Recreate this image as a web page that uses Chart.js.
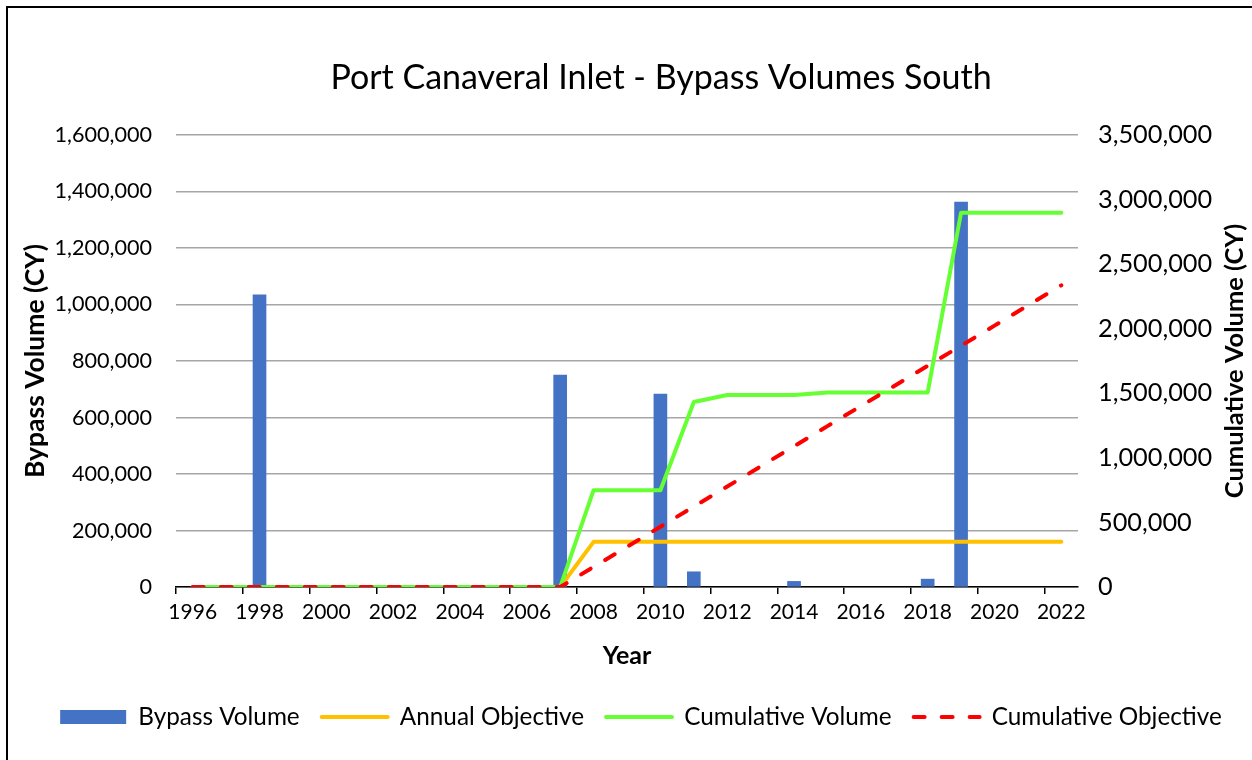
<!DOCTYPE html>
<html>
<head>
<meta charset="utf-8">
<script src="https://cdn.jsdelivr.net/npm/chart.js@4.4.1/dist/chart.umd.min.js"></script>
<style>
html,body{margin:0;padding:0;background:#fff;}
canvas{display:block;}
</style>
</head>
<body>
<canvas id="c" width="1252" height="760"></canvas>
<script>
// ---- data ----
const years = ['1996','1997','1998','1999','2000','2001','2002','2003','2004','2005','2006','2007','2008','2009','2010','2011','2012','2013','2014','2015','2016','2017','2018','2019','2020','2021','2022'];
const bypassVolume = [null,null,1034000,null,null,null,null,null,null,null,null,750000,null,null,683000,54000,null,null,20000,null,null,null,28000,1363000,null,null,null];
const annualObjective = [0,0,0,0,0,0,0,0,0,0,0,0,160000,160000,160000,160000,160000,160000,160000,160000,160000,160000,160000,160000,160000,160000,160000];
const cumulativeVolume = [0,0,0,0,0,0,0,0,0,0,0,0,750000,750000,750000,1433000,1487000,1487000,1487000,1507000,1507000,1507000,1507000,2898000,2898000,2898000,2898000];
const cumulativeObjective = [0,0,0,0,0,0,0,0,0,0,0,0,156000,311000,467000,623000,778000,934000,1090000,1246000,1401000,1557000,1713000,1868000,2024000,2180000,2336000];
const chartTitle = 'Port Canaveral Inlet - Bypass Volumes South';
const leftAxisTitle = 'Bypass Volume (CY)';
const rightAxisTitle = 'Cumulative Volume (CY)';
const xAxisTitle = 'Year';
const leftMax = 1600000, leftStep = 200000;
const rightMax = 3500000, rightStep = 500000;

const FONT = 'Lato';
Chart.defaults.font.family = FONT;
Chart.defaults.color = '#000';

const fmt = v => Number(v).toLocaleString('en-US');

const framePlugin = {
  id: 'frame',
  afterLayout(chart) {
    if (chart.titleBlock) { chart.titleBlock.left += 56; }
    if (chart.legend) { chart.legend.left += 8; chart.legend.right += 8; }
  },
  beforeDraw(chart) {
    const ctx = chart.ctx;
    ctx.save();
    ctx.fillStyle = '#fff';
    ctx.fillRect(0, 0, chart.width, chart.height);
    ctx.strokeStyle = '#000';
    ctx.lineWidth = 2;
    ctx.beginPath();
    ctx.moveTo(7, chart.height);
    ctx.lineTo(7, 7);
    ctx.lineTo(chart.width, 7);
    ctx.stroke();
    ctx.restore();
  },
  afterDraw(chart) {
    const ctx = chart.ctx;
    const ca = chart.chartArea;
    ctx.save();
    ctx.translate(1235, (ca.top + ca.bottom) / 2);
    ctx.rotate(-Math.PI / 2);
    ctx.font = 'bold 25.5px ' + FONT;
    ctx.fillStyle = '#000';
    ctx.textAlign = 'center';
    ctx.textBaseline = 'middle';
    ctx.fillText(rightAxisTitle, 0, 0);
    ctx.restore();
  }
};

new Chart(document.getElementById('c'), {
  type: 'bar',
  plugins: [framePlugin],
  data: {
    labels: years,
    datasets: [
      {
        label: 'Bypass Volume',
        data: bypassVolume,
        backgroundColor: '#4472C4',
        borderWidth: 0,
        barThickness: 13,
        yAxisID: 'y',
        order: 3,
        pointStyle: 'rect'
      },
      {
        type: 'line',
        label: 'Annual Objective',
        data: annualObjective,
        borderColor: '#FFC000',
        backgroundColor: '#FFC000',
        borderWidth: 4,
        pointRadius: 0,
        pointHoverRadius: 0,
        tension: 0,
        fill: false,
        yAxisID: 'y',
        order: 2,
        pointStyle: 'line',
        borderCapStyle: 'round',
        borderJoinStyle: 'round'
      },
      {
        type: 'line',
        label: 'Cumulative Volume',
        data: cumulativeVolume,
        borderColor: '#66FF33',
        backgroundColor: '#66FF33',
        borderWidth: 4,
        pointRadius: 0,
        pointHoverRadius: 0,
        tension: 0,
        fill: false,
        yAxisID: 'y1',
        order: 1,
        pointStyle: 'line',
        borderCapStyle: 'round',
        borderJoinStyle: 'round'
      },
      {
        type: 'line',
        label: 'Cumulative Objective',
        data: cumulativeObjective,
        borderColor: '#FF0000',
        backgroundColor: '#FF0000',
        borderWidth: 4,
        borderDash: [11, 17],
        borderCapStyle: 'round',
        pointRadius: 0,
        pointHoverRadius: 0,
        tension: 0,
        fill: false,
        yAxisID: 'y1',
        order: 0,
        pointStyle: 'line'
      }
    ]
  },
  options: {
    responsive: false,
    animation: false,
    devicePixelRatio: 1,
    layout: { padding: { top: 0, left: 14, right: 0, bottom: 20.75 } },
    plugins: {
      tooltip: { enabled: false },
      title: {
        display: true,
        text: chartTitle,
        font: { family: FONT, size: 34, weight: 'normal' },
        color: '#000',
        padding: { top: 57.6, bottom: 36.6 }
      },
      legend: {
        position: 'bottom',
        labels: {
          usePointStyle: true,
          pointStyleWidth: 66,
          boxHeight: 14,
          padding: 22,
          color: '#000',
          font: { family: FONT, size: 24.3 },
          sort: (a, b) => a.datasetIndex - b.datasetIndex,
          generateLabels: chart => {
            const items = Chart.defaults.plugins.legend.labels.generateLabels(chart);
            items.forEach(it => {
              const ds = chart.data.datasets[it.datasetIndex];
              if (ds.type === 'line') {
                it.lineDash = ds.borderDash || [];
                it.lineCap = ds.borderCapStyle || 'butt';
                it.lineWidth = ds.borderWidth;
                it.strokeStyle = ds.borderColor;
              }
            });
            return items;
          }
        }
      }
    },
    scales: {
      x: {
        offset: true,
        grid: {
          offset: true,
          drawOnChartArea: false,
          drawTicks: true,
          tickLength: 7,
          lineWidth: 1.5,
          color: ctx => (ctx.index !== undefined && ctx.index % 2 === 0) ? '#000' : 'rgba(0,0,0,0)'
        },
        border: { display: true, color: '#000', width: 1.5 },
        ticks: {
          autoSkip: false,
          maxRotation: 0,
          minRotation: 0,
          padding: 6,
          color: '#000',
          font: { family: FONT, size: 21 },
          callback: function(v, i) { return i % 2 === 0 ? this.getLabelForValue(v) : ''; }
        },
        title: {
          display: true,
          text: xAxisTitle,
          color: '#000',
          font: { family: FONT, size: 25, weight: 'bold' },
          padding: { top: 0, bottom: 11.75 }
        },
        afterFit: s => { s.height = 95.9; }
      },
      y: {
        position: 'left',
        min: 0,
        max: leftMax,
        grid: { color: '#A6A6A6', lineWidth: 1.5, drawTicks: false },
        border: { display: false },
        ticks: {
          stepSize: leftStep,
          padding: 24,
          color: '#000',
          font: { family: FONT, size: 21.6 },
          callback: v => fmt(v)
        },
        title: {
          display: true,
          text: leftAxisTitle,
          color: '#000',
          font: { family: FONT, size: 26.5, weight: 'bold' },
          padding: { top: 5.1, bottom: 0 }
        },
        afterFit: s => { s.width = 162; }
      },
      y1: {
        position: 'right',
        min: 0,
        max: rightMax,
        grid: { drawOnChartArea: false, drawTicks: false },
        border: { display: false },
        ticks: {
          stepSize: rightStep,
          padding: 20,
          color: '#000',
          font: { family: FONT, size: 25.3 },
          callback: v => fmt(v)
        },
        afterFit: s => { s.width = 174; }
      }
    }
  }
});
</script>
</body>
</html>
